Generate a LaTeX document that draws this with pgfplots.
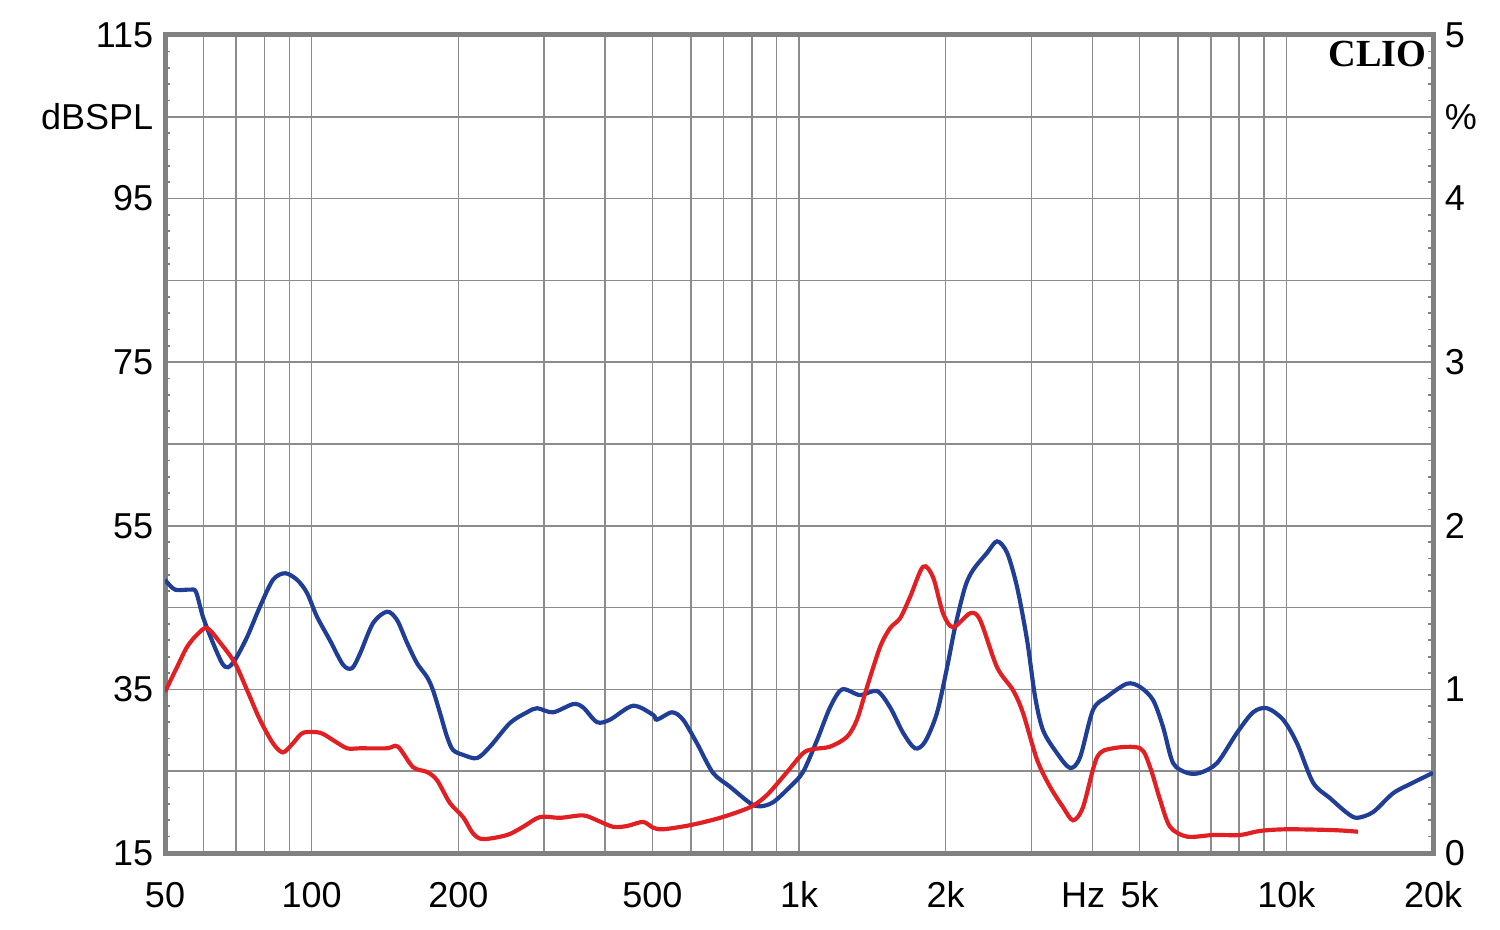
\documentclass[border=0pt]{standalone}
\usepackage{fontspec}
\setmainfont{Liberation Sans}
\newfontfamily\cliofont{Liberation Serif}
\usepackage{pgfplots}
\pgfplotsset{compat=1.18}
\definecolor{cblue}{RGB}{32,62,150}
\definecolor{cred}{RGB}{226,32,36}
\definecolor{framec}{RGB}{128,128,128}
\definecolor{gridc}{RGB}{140,140,140}
\begin{document}
\begin{tikzpicture}
\begin{axis}[
  scale only axis, width=380.4pt, height=245.4pt,
  at={(0,0)}, anchor=south west,
  xmode=log, xmin=50, xmax=20000, ymin=15, ymax=115,
  ytick={15,25,...,115},
  minor y tick num=4,
  major tick length=0pt, minor tick length=1.6pt,
  every tick/.style={framec, line width=0.5pt},
  tick label style={font=\fontsize{10.8}{13}\selectfont},
  /pgf/number format/assume math mode=true,
  axis line style={framec, line width=1.5pt},
  xtick={50,60,70,80,90,100,200,300,400,500,600,700,800,900,1000,2000,3000,4000,5000,6000,7000,8000,9000,10000,20000},
  xticklabels={50,,,,,100,200,,,500,,,,,1k,2k,,,5k,,,,,10k,20k},
  minor xtick={},
  xmajorgrids, ymajorgrids,
  grid style={gridc, line width=0.45pt},
  ytick pos=left, xtick pos=bottom,
  yticklabels={15,,35,,55,,75,,95,dBSPL,115},
  extra x ticks={3830}, extra x tick labels={Hz}, extra x tick style={grid=none},
  xticklabel style={yshift=-5pt, text height=7.8pt, text depth=0pt},
]
\addplot[cblue, line width=1.25pt, smooth] coordinates {
(50,48.4)(52.4,47.2)(56.3,47.2)(57.9,46.9)(59.8,43.9)(62.7,40.7)(65.5,38.2)(67.3,37.7)(69.6,38.6)(73.7,41.4)(78.3,45.1)(83.3,48.4)(88.2,49.2)(93.3,48.4)(97.8,46.8)(102.5,43.9)(109,41.0)(116,38.0)(121,37.6)(125.7,39.4)(133.6,43.1)(142.7,44.5)(149.6,43.5)(156.9,40.7)(164.5,38.2)(172.5,36.5)(177.4,34.9)(183.4,32.1)(189.6,29.2)(195,27.6)(204.4,27.0)(218.4,26.6)(232.2,28.0)(255.3,30.9)(276.6,32.2)(290,32.7)(312.7,32.2)(343.9,33.2)(360.5,32.8)(385,31.0)(409.4,31.3)(456.4,33.0)(501.5,31.9)(511,31.3)(548.8,32.2)(578.1,31.3)(617.6,28.4)(666,24.8)(721.8,23.1)(793.5,21.1)(831.8,20.7)(884.5,21.2)(958.5,23.1)(1019,24.9)(1089,28.8)(1158,32.8)(1226,35.0)(1334,34.3)(1446,34.8)(1538,32.8)(1635,29.7)(1730,27.8)(1814,28.6)(1919,32.1)(2013,37.7)(2090,42.6)(2191,47.5)(2276,49.6)(2432,51.7)(2549,53.1)(2673,51.7)(2802,47.5)(2938,41.0)(3051,34.1)(3168,30.0)(3384,27.2)(3599,25.4)(3773,26.7)(4012,32.5)(4286,34.1)(4711,35.7)(5010,35.3)(5327,33.7)(5585,30.4)(5855,26.0)(6256,24.8)(6651,24.8)(7209,26.0)(7923,29.7)(8547,32.2)(9127,32.7)(9847,31.3)(10520,28.4)(11347,23.6)(12294,21.7)(13321,19.9)(13965,19.3)(15063,20.0)(16558,22.3)(18197,23.6)(20000,24.8)
};
\addplot[cred, line width=1.25pt, smooth] coordinates {
(50,34.7)(52.9,37.7)(55.5,40.2)(58.2,41.7)(61,42.5)(64.9,40.7)(69.6,38.2)(73.7,34.9)(78.3,31.3)(83.3,28.4)(87.3,27.3)(91.5,28.4)(96,29.7)(104,29.7)(110.6,28.8)(118.2,27.8)(125.7,27.8)(142.7,27.8)(150.3,28.0)(161.4,25.5)(172.5,24.9)(180.8,23.9)(192.2,21.1)(204.4,19.4)(214.3,17.4)(224.7,16.7)(251.7,17.2)(271.5,18.2)(294.1,19.4)(323.3,19.3)(360.5,19.6)(385,19.0)(415.3,18.2)(443.7,18.3)(478.6,18.8)(501.5,18.1)(526,17.9)(597.6,18.4)(688.6,19.3)(793.5,20.6)(859.8,22.1)(944.9,24.9)(1019,27.2)(1069,27.7)(1158,28.0)(1254,29.2)(1315,31.3)(1379,35.3)(1467,40.2)(1538,42.5)(1612,43.7)(1690,46.3)(1797,50.0)(1884,48.7)(1975,44.3)(2071,42.6)(2244,44.3)(2352,43.5)(2549,37.7)(2749,34.9)(2882,32.1)(3079,26.4)(3274,23.1)(3482,20.6)(3650,19.0)(3826,20.6)(4089,26.7)(4410,27.8)(5010,27.8)(5252,25.5)(5507,21.5)(5773,18.2)(6256,17.0)(7074,17.2)(8035,17.2)(8831,17.7)(10035,17.9)(12470,17.8)(14032,17.6)
};
\node[anchor=north east, inner sep=0pt, font=\cliofont\bfseries\fontsize{11.5}{13}\selectfont, xshift=-1.8pt, yshift=-1.6pt] at (rel axis cs:1,1) {CLIO};
\end{axis}
\begin{axis}[
  scale only axis, width=380.4pt, height=245.4pt,
  at={(0,0)}, anchor=south west,
  xmode=log, xmin=50, xmax=20000, ymin=15, ymax=115,
  ytick={15,25,...,115},
  minor y tick num=4,
  major tick length=0pt, minor tick length=1.6pt,
  every tick/.style={framec, line width=0.5pt},
  tick label style={font=\fontsize{10.8}{13}\selectfont},
  /pgf/number format/assume math mode=true,
  axis line style={draw=none},
  hide x axis,
  ytick pos=right,
  yticklabels={0,,1,,2,,3,,4,\%,5},
]
\addplot[draw=none] coordinates {(50,15)};
\end{axis}
\pgfresetboundingbox
\path[use as bounding box] (-49.5pt,-22.8pt) rectangle (400.5pt,255.9pt);
\end{tikzpicture}
\end{document}
